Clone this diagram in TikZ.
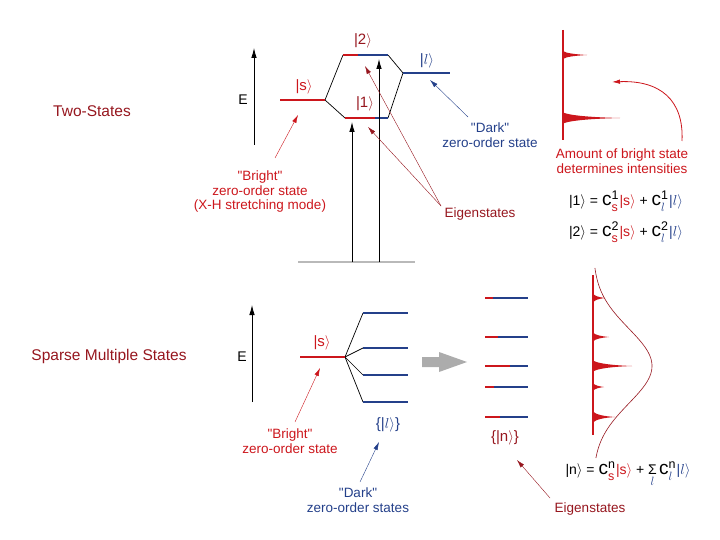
\documentclass[tikz,border=0pt]{standalone}
\usepackage{amsmath}
\usepackage{fontspec}
\setmainfont{Liberation Sans}
\usetikzlibrary{arrows.meta}
\usetikzlibrary{calc}

\definecolor{brightred}{RGB}{204,22,28}
\definecolor{eigred}{RGB}{150,22,30}
\definecolor{darkblue}{RGB}{36,64,138}

\newcommand{\coef}[3]{{\fontsize{19}{19}\selectfont c}{\fontsize{12.5}{12.5}\selectfont\rlap{\raisebox{6pt}{#1}}\rlap{\raisebox{-6pt}{\color{#3}#2}}\hspace{8pt}}}

\tikzset{
  bright/.style={brightred, line width=2.6pt},
  dark/.style={darkblue, line width=1.8pt},
  mix/.style={black, line width=0.7pt},
  note/.style={font=\fontsize{13.5}{14.5}\selectfont, align=center, inner sep=1pt},
  ket/.style={font=\fontsize{15}{16}\selectfont, inner sep=1pt},
  eqn/.style={font=\fontsize{14}{15}\selectfont, inner sep=1pt},
  tip/.style={-{Latex[length=8pt,width=4.5pt]}},
  bigtip/.style={-{Latex[length=10pt,width=5.5pt]}},
}

\begin{document}
\begin{tikzpicture}[x=1pt, y=-1pt]
    \useasboundingbox (0,0) rectangle (720,540);

    % top: two states
    \node[font=\fontsize{15.5}{16}\selectfont, eigred] (twoStates) at (92,111) {Two-States};
    \coordinate (eBotA) at (254,145);
    \coordinate (eTopA) at (254,48);
    \draw[thick, bigtip] (eBotA) -- (eTopA);
    \node[font=\fontsize{14}{14}\selectfont] (eA) at (243,100) {E};

    \coordinate (sL) at (280,100);
    \coordinate (sR) at (325,100);
    \coordinate (twoL) at (343,55);
    \coordinate (twoM) at (358,55);
    \coordinate (twoR) at (388,55);
    \coordinate (oneL) at (345,118);
    \coordinate (oneM) at (375,118);
    \coordinate (oneR) at (388,118);
    \coordinate (lL) at (403,73);
    \coordinate (lR) at (450,73);

    \draw[mix] (twoL) -- (sR) -- (oneL);
    \draw[mix] (twoR) -- (lL) -- (oneR);
    \draw[bright] (sL) -- (sR);
    \draw[dark] (twoM) -- (twoR);
    \draw[bright] (twoL) -- (twoM);
    \draw[dark] (oneM) -- (oneR);
    \draw[bright] (oneL) -- (oneM);
    \draw[dark] (lL) -- (lR);

    \node[ket, brightred] (sKetA) at (304,87) {|s$\rangle$};
    \node[ket, eigred] (twoKet) at (363,41) {|2$\rangle$};
    \node[ket, eigred] (oneKet) at (365,104) {|1$\rangle$};
    \node[ket, darkblue] (lKetA) at (427,61) {|$l\rangle$};

    \coordinate (gndL) at (298,262);
    \coordinate (gndR) at (415,262);
    \draw[gray!55, line width=1.2pt] (gndL) -- (gndR);
    \coordinate (upOneBot) at (352,262);
    \coordinate (upOneTop) at (352,122);
    \coordinate (upTwoBot) at (379,262);
    \coordinate (upTwoTop) at (379,59);
    \draw[thick, bigtip] (upOneBot) -- (upOneTop);
    \draw[thick, bigtip] (upTwoBot) -- (upTwoTop);

    \node[note, brightred] (brightA) at (260,192) {\textquotedbl Bright\textquotedbl\\zero-order state\\(X-H stretching mode)};
    \coordinate (brightATail) at (275,158);
    \coordinate (brightAHead) at (298,115);
    \draw[brightred, thin, tip] (brightATail) -- (brightAHead);

    \node[note, darkblue] (darkA) at (490,135) {\textquotedbl Dark\textquotedbl\\zero-order state};
    \coordinate (darkATail) at (468,117);
    \coordinate (darkAHead) at (430,80);
    \draw[darkblue, thin, tip] (darkATail) -- (darkAHead);

    \node[note, eigred] (eigA) at (480,214) {Eigenstates};
    \coordinate (eigATail) at (441,206);
    \coordinate (eigAHeadTwo) at (365,66);
    \coordinate (eigAHeadOne) at (368,127);
    \draw[eigred, thin, tip] (eigATail) -- (eigAHeadTwo);
    \draw[eigred, thin, tip] (eigATail) -- (eigAHeadOne);

    % top spectrum
    \coordinate (specATop) at (563,30);
    \coordinate (specABot) at (563,140);
    \draw[brightred, line width=1.3pt] (specATop) -- (specABot);
    \foreach \py/\px/\ph in {55/587/4, 118/620/5.5} {
        \fill[brightred] (563,\py-\ph) .. controls ({563+0.12*(\px-563)},\py-0.45*\ph) and ({563+0.5*(\px-563)},\py-0.7) .. (\px,\py)
            .. controls ({563+0.5*(\px-563)},\py+0.7) and ({563+0.12*(\px-563)},\py+0.45*\ph) .. (563,\py+\ph) -- cycle;
    }
    \node[note, brightred] (amount) at (622,161) {Amount of bright state\\determines intensities};
    \coordinate (amountTail) at (682,141);
    \coordinate (amountHead) at (612,82);
    \draw[brightred, thick, tip] (amountTail) .. controls (684,100) and (660,80) .. (amountHead);

    \node[eqn] (eqOne) at (626,201) {|1$\rangle$ = \coef{1}{s}{brightred}\textcolor{brightred}{|s$\rangle$} + \coef{1}{$l$}{darkblue}\textcolor{darkblue}{|$l\rangle$}};
    \node[eqn] (eqTwo) at (626,232) {|2$\rangle$ = \coef{2}{s}{brightred}\textcolor{brightred}{|s$\rangle$} + \coef{2}{$l$}{darkblue}\textcolor{darkblue}{|$l\rangle$}};

    % bottom: sparse multiple states
    \node[font=\fontsize{15.5}{16}\selectfont, eigred] (sparse) at (109,356) {Sparse Multiple States};
    \coordinate (eBotB) at (252,402);
    \coordinate (eTopB) at (252,305);
    \draw[thick, bigtip] (eBotB) -- (eTopB);
    \node[font=\fontsize{14}{14}\selectfont] (eB) at (242,357) {E};

    \coordinate (sBL) at (300,357);
    \coordinate (sBR) at (345,357);
    \foreach \ly in {313,348,375,402} {
        \draw[mix] (sBR) -- (363,\ly);
        \draw[dark] (363,\ly) -- (408,\ly);
    }
    \draw[bright] (sBL) -- (sBR);
    \node[ket, brightred] (sKetB) at (322,343) {|s$\rangle$};
    \node[ket, darkblue] (lSet) at (388,425) {\{|$l\rangle$\}};

    \node[note, brightred] (brightB) at (290,441) {\textquotedbl Bright\textquotedbl\\zero-order state};
    \coordinate (brightBTail) at (295,422);
    \coordinate (brightBHead) at (320,368);
    \draw[brightred, thin, tip] (brightBTail) -- (brightBHead);

    \node[note, darkblue] (darkB) at (358,500) {\textquotedbl Dark\textquotedbl\\zero-order states};
    \coordinate (darkBTail) at (360,482);
    \coordinate (darkBHead) at (379,442);
    \draw[darkblue, thin, tip] (darkBTail) -- (darkBHead);

    \fill[gray!65] (422,357) -- (439,357) -- (439,352) -- (467,362) -- (439,372) -- (439,367) -- (422,367) -- cycle;

    % eigenstates
    \foreach \ly/\lr in {298/493, 337/498, 366/510, 387/494, 417/500} {
        \draw[dark] (485,\ly) -- (528,\ly);
        \draw[bright] (485,\ly) -- (\lr,\ly);
    }
    \node[ket, eigred] (nSet) at (505,438) {\{|n$\rangle$\}};
    \node[note, eigred] (eigB) at (590,509) {Eigenstates};
    \coordinate (eigBTail) at (550,498);
    \coordinate (eigBHead) at (517,460);
    \draw[eigred, thin, tip] (eigBTail) -- (eigBHead);

    % bottom spectrum
    \coordinate (specBTop) at (593,275);
    \coordinate (specBBot) at (593,435);
    \draw[brightred, line width=1.3pt] (specBTop) -- (specBBot);
    \foreach \py/\px/\ph in {298/605/4.5, 337/609/4.5, 366/632/5.5, 387/604/4, 417/615/5.5} {
        \fill[brightred] (593,\py-\ph) .. controls ({593+0.12*(\px-593)},\py-0.45*\ph) and ({593+0.5*(\px-593)},\py-0.7) .. (\px,\py)
            .. controls ({593+0.5*(\px-593)},\py+0.7) and ({593+0.12*(\px-593)},\py+0.45*\ph) .. (593,\py+\ph) -- cycle;
    }
    \draw[eigred, line width=0.6pt] plot[domain=268:458, samples=80, smooth] ({593+59*exp(-(((\x-366)/53)^2))}, \x);

    \node[eqn] (eqN) at (628,474) {|n$\rangle$ = \coef{n}{s}{brightred}\textcolor{brightred}{|s$\rangle$} + $\mathop{\mbox{\fontsize{14}{14}\selectfont Σ}}\limits_{\mbox{\fontsize{12.5}{12.5}\selectfont\color{darkblue}$l$}}$\,\coef{n}{$l$}{darkblue}\textcolor{darkblue}{|$l\rangle$}};
\end{tikzpicture}
\end{document}
